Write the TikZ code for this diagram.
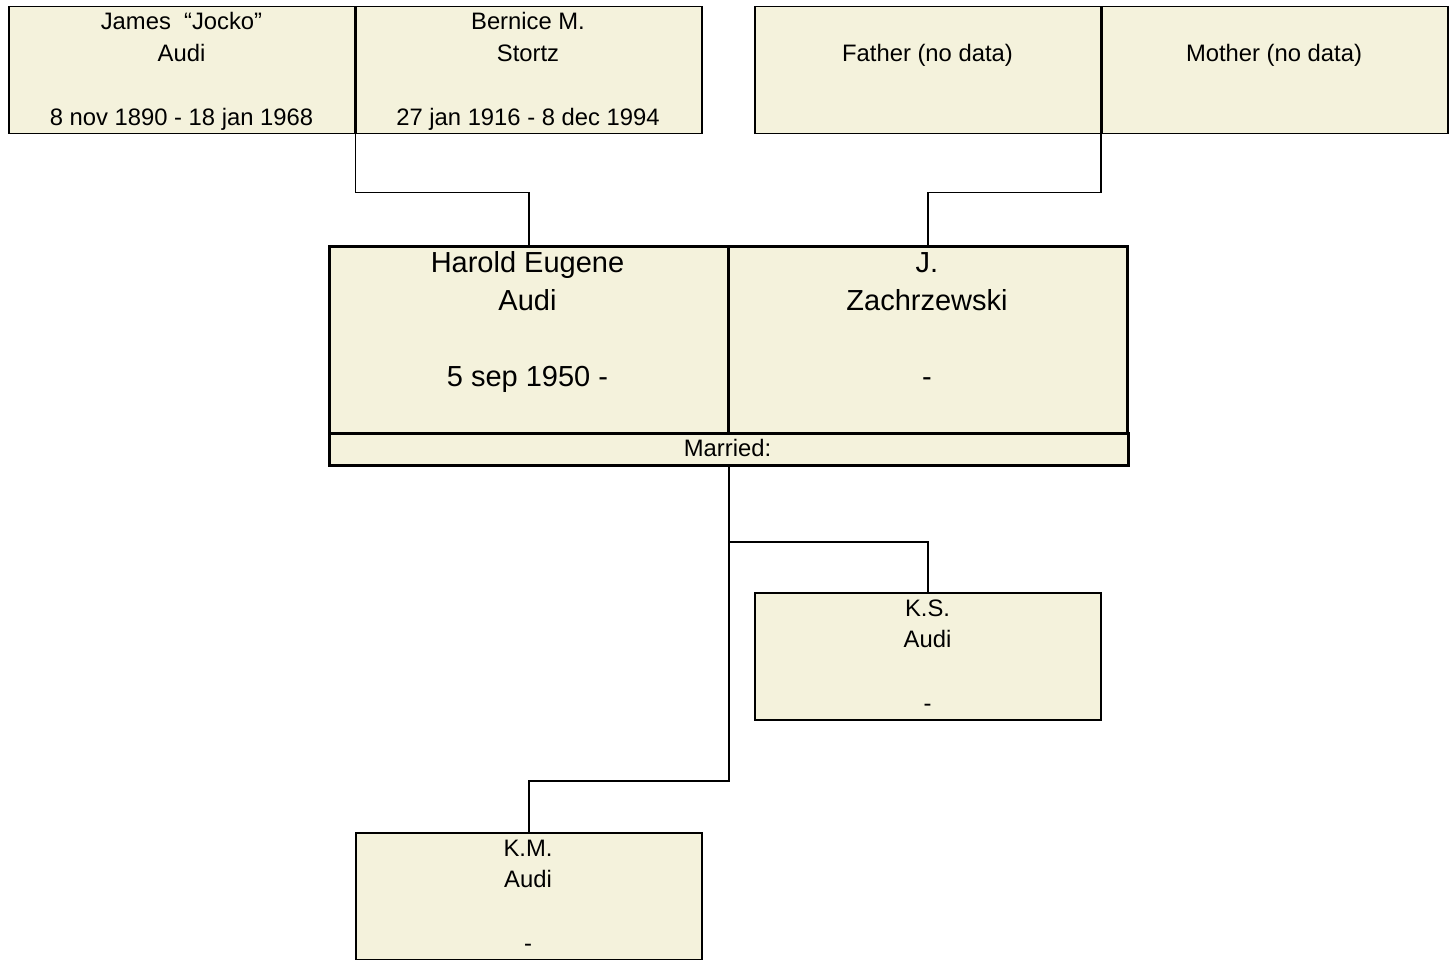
\documentclass[tikz,border=0pt]{standalone}
\usepackage{fontspec}
\setmainfont{Liberation Sans}
\definecolor{boxfill}{HTML}{F4F2DC}
\begin{document}
\begin{tikzpicture}[x=1pt,y=-1pt,
  pbox/.style={draw=black, fill=boxfill, line width=1.5pt, anchor=north west, inner sep=0pt,
    minimum width=346pt, minimum height=127pt},
  mbox/.style={draw=black, fill=boxfill, line width=3pt, anchor=north west, inner sep=0pt,
    minimum width=399pt, minimum height=187pt},
  stxt/.style={anchor=base, align=center, inner sep=0pt, font=\fontsize{23.8}{31.8}\selectfont},
  btxt/.style={anchor=base, align=center, inner sep=0pt, font=\fontsize{29}{38}\selectfont},
  conn/.style={draw=black, line width=1.5pt}]
\useasboundingbox[fill=white] (0,0) rectangle (1451,960);

% grandparents
\node[pbox] (james) at (8,6) {};
\node[pbox] (bernice) at (355,6) {};
\node[pbox] (father) at (754,6) {};
\node[pbox] (mother) at (1101,6) {};

% couple
\node[mbox] (harold) at (328,245) {};
\node[mbox] (jz) at (727,245) {};
\node[draw=black, fill=boxfill, line width=3pt, anchor=north west, inner sep=0pt,
  minimum width=799pt, minimum height=32pt] (married) at (328,432) {};

% children
\node[pbox] (ks) at (754,592) {};
\node[pbox] (km) at (355,832) {};

% texts (anchor = baseline of the last line)
\node[stxt] (jamesT) at (181.5,125.4) {James\ \ “Jocko”\\Audi\\~\\8 nov 1890 - 18 jan 1968};
\node[stxt] (berniceT) at (528,125.4) {Bernice M.\\Stortz\\~\\27 jan 1916 - 8 dec 1994};
\node[stxt] (fatherT) at (927.5,61.3) {Father (no data)};
\node[stxt] (motherT) at (1274,61.3) {Mother (no data)};
\node[btxt] (haroldT) at (527.5,386.3) {Harold Eugene\\Audi\\~\\5 sep 1950 -};
\node[btxt] (jzT) at (927,386.3) {J.\\Zachrzewski\\~\\-};
\node[stxt] (marriedT) at (727.5,456.5) {Married:};
\node[stxt] (ksT) at (927.5,711.4) {K.S.\\Audi\\~\\-};
\node[stxt] (kmT) at (528,951.4) {K.M.\\Audi\\~\\-};

% connectors
\draw[conn] (james.south east) -- ++(0,58) -| (harold.north);
\draw[conn] (mother.south west) -- ++(0,58) -| (jz.north);
\draw[conn] (married.south) -- ++(0,314) -| (km.north);
\draw[conn] (married.south) ++(0,75) -| (ks.north);
\end{tikzpicture}
\end{document}
